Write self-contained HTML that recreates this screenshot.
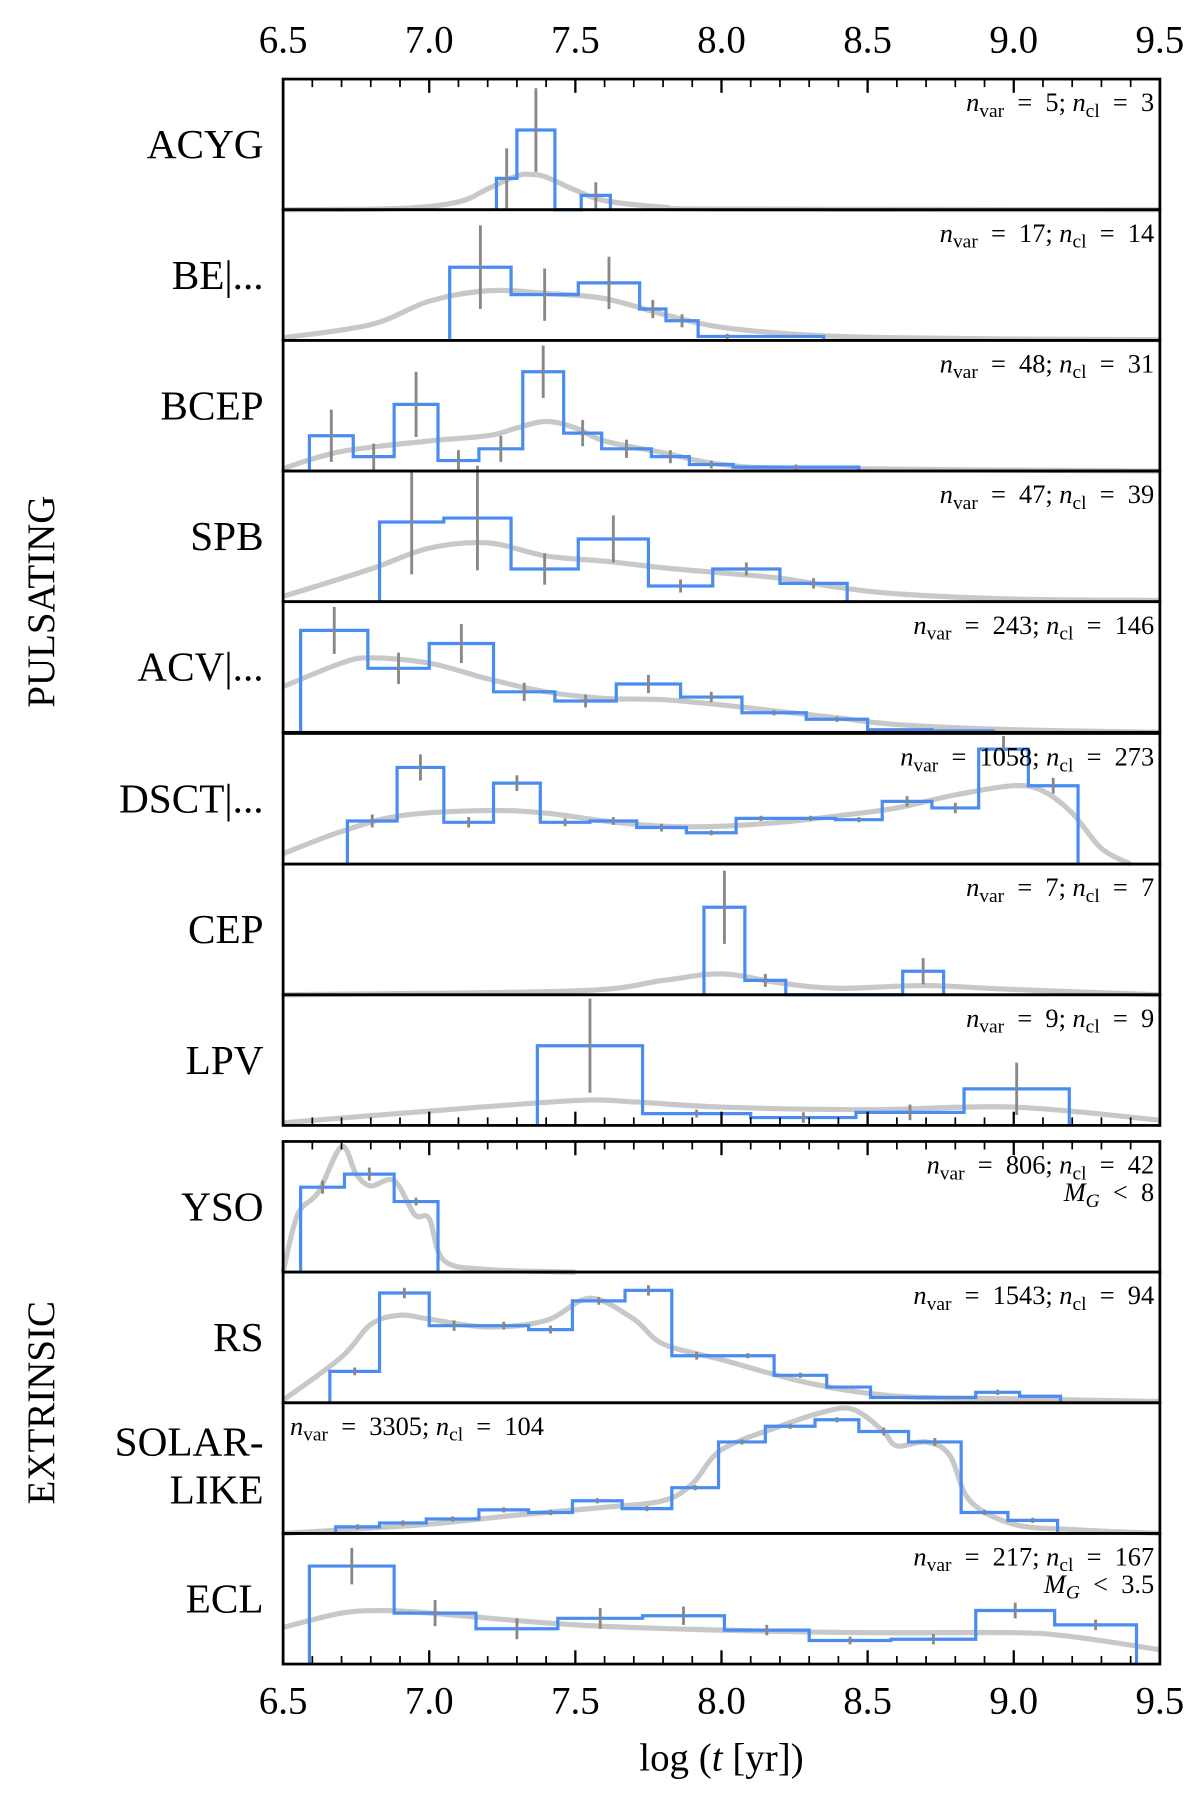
<!DOCTYPE html>
<html><head><meta charset="utf-8"><style>
html,body{margin:0;padding:0;background:#fff}
svg{display:block}
text{font-family:"Liberation Serif",serif;fill:#000}
</style></head><body>
<svg id="chart" width="1200" height="1797" viewBox="0 0 1047 1568" preserveAspectRatio="none" xmlns="http://www.w3.org/2000/svg"></svg>
<script>
const acygEdges=[7.23,7.30,7.43,7.52,7.62], acygHeights=[0.24,0.61,0,0.11], acygErrs=[0.23,0.32,0,0.1];
const acygKdeX=[6.5,6.9,7.1,7.2,7.3,7.35,7.4,7.5,7.6,7.8,8.0,9.5], acygKdeY=[0,0.01,0.06,0.16,0.26,0.27,0.25,0.15,0.07,0.02,0.005,0];
const beEdges=[7.07,7.28,7.51,7.72,7.81,7.92,8.12,8.35], beHeights=[0.56,0.35,0.44,0.24,0.15,0.03,0.03], beErrs=[0.32,0.2,0.2,0.07,0.05,0.02,0.01];
const beKdeX=[6.5,6.8,7.0,7.2,7.4,7.6,7.8,8.0,8.3,8.6,9.0,9.5], beKdeY=[0.02,0.12,0.3,0.38,0.36,0.32,0.2,0.1,0.04,0.02,0.01,0.005];
const bcepEdges=[6.59,6.74,6.88,7.03,7.17,7.32,7.46,7.59,7.76,7.89,8.04,8.47], bcepHeights=[0.27,0.11,0.51,0.08,0.17,0.76,0.29,0.17,0.11,0.05,0.03], bcepErrs=[0.2,0.1,0.25,0.08,0.1,0.2,0.1,0.07,0.05,0.03,0.02];
const bcepKdeX=[6.5,6.7,7.0,7.2,7.3,7.4,7.5,7.6,7.8,8.0,8.3,9.5], bcepKdeY=[0.02,0.15,0.23,0.27,0.33,0.38,0.33,0.23,0.14,0.05,0.02,0];
const spbEdges=[6.83,7.05,7.28,7.51,7.75,7.97,8.2,8.43], spbHeights=[0.61,0.64,0.25,0.48,0.12,0.25,0.14], spbErrs=[0.4,0.4,0.12,0.18,0.05,0.05,0.04];
const spbKdeX=[6.5,6.8,7.0,7.2,7.4,7.6,7.8,8.0,8.2,8.4,8.6,9.0,9.5], spbKdeY=[0.04,0.25,0.41,0.45,0.35,0.31,0.26,0.22,0.18,0.11,0.06,0.02,0.01];
const acvEdges=[6.56,6.79,7.0,7.22,7.43,7.64,7.86,8.07,8.29,8.5,8.72,8.93], acvHeights=[0.78,0.49,0.68,0.31,0.24,0.37,0.27,0.15,0.10,0.02,0.01], acvErrs=[0.18,0.12,0.15,0.07,0.05,0.07,0.04,0.02,0.02,0.01,0];
const acvKdeX=[6.5,6.7,6.8,7.0,7.2,7.4,7.6,7.8,8.0,8.2,8.4,8.6,9.0,9.5], acvKdeY=[0.35,0.53,0.57,0.53,0.41,0.31,0.26,0.25,0.21,0.16,0.11,0.06,0.02,0];
const dsctEdges=[6.72,6.89,7.05,7.22,7.38,7.55,7.71,7.88,8.05,8.22,8.39,8.55,8.72,8.88,9.05,9.22], dsctHeights=[0.33,0.74,0.32,0.62,0.32,0.33,0.28,0.24,0.35,0.35,0.34,0.48,0.43,0.88,0.6], dsctErrs=[0.05,0.1,0.04,0.06,0.03,0.03,0.03,0.02,0.02,0.02,0.02,0.04,0.04,0.1,0.06];
const dsctKdeX=[6.5,6.7,6.9,7.2,7.4,7.6,7.8,8.0,8.2,8.4,8.6,8.8,9.0,9.1,9.2,9.3,9.4], dsctKdeY=[0.08,0.25,0.37,0.41,0.39,0.33,0.29,0.29,0.32,0.37,0.43,0.53,0.6,0.56,0.39,0.12,0];
const cepEdges=[7.94,8.08,8.22,8.36,8.49,8.62,8.76], cepHeights=[0.67,0.11,0,0,0,0.18], cepErrs=[0.28,0.05,0,0,0,0.1];
const cepKdeX=[6.5,7.5,7.8,8.0,8.2,8.4,8.7,9.0,9.5], cepKdeY=[0,0.03,0.11,0.16,0.09,0.05,0.07,0.04,0];
const lpvEdges=[7.37,7.73,8.1,8.46,8.83,9.19], lpvHeights=[0.61,0.09,0.06,0.1,0.28], lpvErrs=[0.36,0.03,0.04,0.06,0.2];
const lpvKdeX=[6.5,7.0,7.5,7.7,8.0,8.5,9.0,9.5], lpvKdeY=[0.02,0.11,0.19,0.18,0.14,0.12,0.14,0.04];
const ysoEdges=[6.56,6.71,6.88,7.03], ysoHeights=[0.65,0.75,0.54], ysoErrs=[0.05,0.05,0.03];
const ysoKdeX=[6.5,6.55,6.62,6.7,6.75,6.8,6.88,6.95,7.0,7.05,7.2,7.5], ysoKdeY=[0,0.44,0.61,0.96,0.75,0.66,0.70,0.44,0.41,0.09,0.02,0];
const rsEdges=[6.66,6.83,7.0,7.17,7.34,7.49,7.67,7.83,8.0,8.18,8.36,8.51,8.69,8.87,9.02,9.16], rsHeights=[0.24,0.84,0.59,0.59,0.56,0.78,0.86,0.36,0.36,0.21,0.12,0.04,0.04,0.08,0.05], rsErrs=[0.03,0.04,0.04,0.03,0.03,0.03,0.04,0.03,0.02,0.02,0.01,0.01,0.01,0.02,0.01];
const rsKdeX=[6.5,6.7,6.8,6.9,7.0,7.2,7.4,7.55,7.7,7.8,8.0,8.3,8.6,9.0,9.5], rsKdeY=[0.02,0.35,0.6,0.67,0.64,0.58,0.63,0.8,0.64,0.45,0.33,0.15,0.05,0.03,0.01];
const solarEdges=[6.68,6.83,6.99,7.17,7.34,7.49,7.66,7.83,7.99,8.15,8.32,8.47,8.64,8.82,8.98,9.15], solarHeights=[0.05,0.08,0.11,0.18,0.16,0.25,0.19,0.35,0.70,0.82,0.87,0.78,0.70,0.16,0.10], solarErrs=[0.02,0.02,0.02,0.02,0.02,0.02,0.02,0.02,0.02,0.02,0.02,0.03,0.03,0.02,0.02];
const solarKdeX=[6.5,6.8,7.0,7.3,7.6,7.8,7.9,8.0,8.2,8.35,8.45,8.55,8.6,8.7,8.78,8.85,9.0,9.2,9.5], solarKdeY=[0,0.04,0.07,0.14,0.2,0.25,0.38,0.64,0.82,0.93,0.95,0.79,0.67,0.7,0.6,0.25,0.07,0.03,0];
const eclEdges=[6.59,6.88,7.16,7.44,7.73,8.01,8.3,8.58,8.87,9.14,9.42], eclHeights=[0.75,0.39,0.27,0.35,0.37,0.26,0.18,0.19,0.41,0.30], eclErrs=[0.14,0.1,0.08,0.08,0.07,0.04,0.03,0.04,0.06,0.04];
const eclKdeX=[6.5,6.7,6.85,7.0,7.5,8.0,8.5,9.0,9.2,9.5], eclKdeY=[0.28,0.39,0.41,0.39,0.3,0.26,0.24,0.24,0.21,0.11];
const tickLabels=[6.5,7.0,7.5,8.0,8.5,9.0,9.5];

const panels=[
 {name:'acyg',label:['ACYG'],top:69,e:acygEdges,h:acygHeights,er:acygErrs,kx:acygKdeX,ky:acygKdeY,nv:'5',nc:'3'},
 {name:'be',label:['BE|...'],top:183,e:beEdges,h:beHeights,er:beErrs,kx:beKdeX,ky:beKdeY,nv:'17',nc:'14'},
 {name:'bcep',label:['BCEP'],top:297,e:bcepEdges,h:bcepHeights,er:bcepErrs,kx:bcepKdeX,ky:bcepKdeY,nv:'48',nc:'31'},
 {name:'spb',label:['SPB'],top:411,e:spbEdges,h:spbHeights,er:spbErrs,kx:spbKdeX,ky:spbKdeY,nv:'47',nc:'39'},
 {name:'acv',label:['ACV|...'],top:525,e:acvEdges,h:acvHeights,er:acvErrs,kx:acvKdeX,ky:acvKdeY,nv:'243',nc:'146'},
 {name:'dsct',label:['DSCT|...'],top:640,e:dsctEdges,h:dsctHeights,er:dsctErrs,kx:dsctKdeX,ky:dsctKdeY,nv:'1058',nc:'273'},
 {name:'cep',label:['CEP'],top:754,e:cepEdges,h:cepHeights,er:cepErrs,kx:cepKdeX,ky:cepKdeY,nv:'7',nc:'7'},
 {name:'lpv',label:['LPV'],top:868,e:lpvEdges,h:lpvHeights,er:lpvErrs,kx:lpvKdeX,ky:lpvKdeY,nv:'9',nc:'9'},
 {name:'yso',label:['YSO'],top:996,e:ysoEdges,h:ysoHeights,er:ysoErrs,kx:ysoKdeX,ky:ysoKdeY,nv:'806',nc:'42',mg:'8'},
 {name:'rs',label:['RS'],top:1110,e:rsEdges,h:rsHeights,er:rsErrs,kx:rsKdeX,ky:rsKdeY,nv:'1543',nc:'94'},
 {name:'solar-like',label:['SOLAR-','LIKE'],top:1224,e:solarEdges,h:solarHeights,er:solarErrs,kx:solarKdeX,ky:solarKdeY,nv:'3305',nc:'104',left:true},
 {name:'ecl',label:['ECL'],top:1338,e:eclEdges,h:eclHeights,er:eclErrs,kx:eclKdeX,ky:eclKdeY,nv:'217',nc:'167',mg:'3.5'}
];
const NS='http://www.w3.org/2000/svg';
const svg=document.getElementById('chart');
const X0=247,X1=1012,PH=114;
const xs=v=>X0+(v-6.5)/3*(X1-X0);
function mk(tag,attrs,parent){const el=document.createElementNS(NS,tag);for(const k in attrs)el.setAttribute(k,attrs[k]);(parent||svg).appendChild(el);return el;}
function smooth(pts){
  let d='M'+pts[0][0].toFixed(1)+','+pts[0][1].toFixed(1);
  for(let i=0;i<pts.length-1;i++){
    const p0=pts[Math.max(0,i-1)],p1=pts[i],p2=pts[i+1],p3=pts[Math.min(pts.length-1,i+2)];
    const c1=[p1[0]+(p2[0]-p0[0])/6,p1[1]+(p2[1]-p0[1])/6];
    const c2=[p2[0]-(p3[0]-p1[0])/6,p2[1]-(p3[1]-p1[1])/6];
    d+=' C'+c1[0].toFixed(1)+','+c1[1].toFixed(1)+' '+c2[0].toFixed(1)+','+c2[1].toFixed(1)+' '+p2[0].toFixed(1)+','+p2[1].toFixed(1);
  }
  return d;
}
const EQ='\u00a0\u00a0=\u00a0\u00a0';
panels.forEach(p=>{
  const bot=p.top+PH, ys=f=>bot-f*PH;
  const g=mk('g',{});
  
  
  const d=smooth(p.kx.map((x,i)=>[xs(x),ys(p.ky[i])]));
  const k=mk('path',{d:d,fill:'none',stroke:'#c8c8c8','stroke-width':4.5,'stroke-linejoin':'round'},g);
  
  
  let hd='M'+xs(p.e[0])+','+bot;
  p.h.forEach((h,i)=>{hd+=' L'+xs(p.e[i])+','+ys(h)+' L'+xs(p.e[i+1])+','+ys(h);});
  hd+=' L'+xs(p.e[p.e.length-1])+','+bot;
  const hp=mk('path',{d:hd,fill:'none',stroke:'#4a8cf0','stroke-width':2.8},g);
  
  
  p.h.forEach((h,i)=>{
    if(p.er[i]<=0)return;
    const cx=xs((p.e[i]+p.e[i+1])/2);
    const l=mk('line',{x1:cx,x2:cx,y1:ys(h+p.er[i]),y2:ys(Math.max(0,h-p.er[i])),stroke:'#888','stroke-width':2.5},g);
    
    
  });
  const r=mk('rect',{x:X0,y:p.top,width:X1-X0,height:PH,fill:'none',stroke:'#000','stroke-width':2.4},g);
  
  
  const lab=mk('text',{x:230,'text-anchor':'end','font-size':36},g);
  
  
  if(p.label.length===1){lab.setAttribute('y',p.top+PH/2+12);lab.textContent=p.label[0];}
  else{p.label.forEach((t,i)=>{const ts=mk('tspan',{x:230,y:p.top+46+i*42},lab);ts.textContent=t;});}
  const an=mk('text',{x:p.left?253:1007,y:p.top+28,'text-anchor':p.left?'start':'end','font-size':23},g);
  
  
  an.innerHTML='<tspan font-style="italic">n</tspan><tspan font-size="17" dy="5">var</tspan><tspan dy="-5">'+EQ+p.nv+';\u00a0</tspan><tspan font-style="italic">n</tspan><tspan font-size="17" dy="5">cl</tspan><tspan dy="-5">'+EQ+p.nc+'</tspan>';
  if(p.mg){
    const m=mk('text',{x:1007,y:p.top+52,'text-anchor':'end','font-size':23},g);
    
    
    m.innerHTML='<tspan font-style="italic">M</tspan><tspan font-size="17" font-style="italic" dy="5">G</tspan><tspan dy="-5">\u00a0\u00a0&lt;\u00a0\u00a0'+p.mg+'</tspan>';
  }
});
function ticks(y,dir){
  for(let i=0;i<=30;i++){
    const v=6.5+i*0.1, x=xs(v), major=(i%5===0);
    const l=mk('line',{x1:x,x2:x,y1:y,y2:y+dir*(major?12:7),stroke:'#000','stroke-width':major?2:1.5});
    
    
  }
}
ticks(69,1);ticks(982,-1);ticks(996,1);ticks(1452,-1);
tickLabels.forEach(v=>{
  [46,1495].forEach(y=>{
    const t=mk('text',{x:xs(v),y:y,'text-anchor':'middle','font-size':34});
    
    
    t.textContent=v.toFixed(1);
  });
});
const xl=mk('text',{x:xs(8),y:1545,'text-anchor':'middle','font-size':34});


xl.innerHTML='log (<tspan font-style="italic">t</tspan> [yr])';
[['PULSATING',525,'pulsating-group-label'],['EXTRINSIC',1224,'extrinsic-group-label']].forEach(a=>{
  const t=mk('text',{x:0,y:0,'text-anchor':'middle','font-size':34,transform:'translate(47,'+a[1]+') rotate(-90)'});
  
  
  t.textContent=a[0];
});
</script>
</body></html>
